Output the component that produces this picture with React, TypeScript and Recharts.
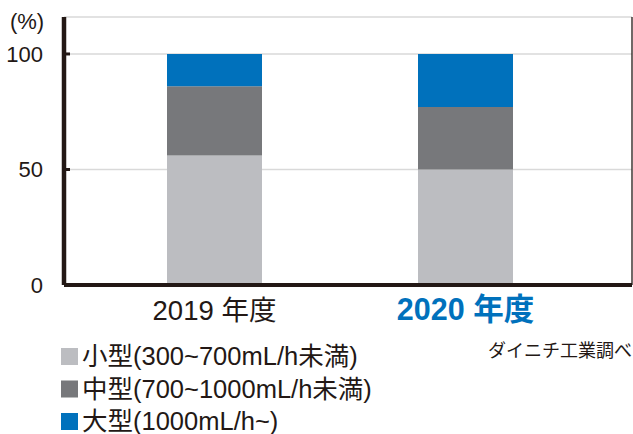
import React from 'react';
import { BarChart, Bar, XAxis, YAxis, CartesianGrid, Legend, Label } from 'recharts';

// ---- data ----
const categories = ['2019 年度', '2020 年度'];
const smallShare = [56, 50];
const mediumShare = [30, 27];
const largeShare = [14, 23];
const seriesKeys = ['small', 'medium', 'large'];
const seriesNames = ['小型(300~700mL/h未満)', '中型(700~1000mL/h未満)', '大型(1000mL/h~)'];
const seriesColors = ['#bcbdc1', '#77787b', '#0071bc'];
const yTicks = [0, 50, 100];
const yMax = 116;
const unitLabel = '(%)';
const sourceNote = 'ダイニチ工業調べ';

const data = categories.map((c, i) => ({
  year: c,
  small: smallShare[i],
  medium: mediumShare[i],
  large: largeShare[i],
}));

const INK = '#231815';
const BLUE = '#0071bc';
const FONT = '"Liberation Sans", "Noto Sans CJK JP", sans-serif';
const CJK = '"Noto Sans CJK JP", sans-serif';

const YTick = (props: any) => {
  const { x, y, payload } = props;
  return (
    <g>
      <line x1={x + 21} x2={x + 27} y1={y} y2={y} stroke={INK} strokeWidth={3} />
      <text x={x} y={y} dy={8} textAnchor="end" fontSize={22} fontFamily={FONT} fill={INK}>
        {payload.value}
      </text>
    </g>
  );
};

const XTick = (props: any) => {
  const { x, y, payload, index } = props;
  const highlight = index === categories.length - 1;
  return (
    <text
      x={x}
      y={y}
      dy={35}
      textAnchor="middle"
      fontSize={highlight ? 30.5 : 27.5}
      fontFamily={FONT}
      fontWeight={highlight ? 700 : 400}
      fill={highlight ? BLUE : INK}
    >
      {payload.value}
    </text>
  );
};

const LegendContent = () => (
  <svg width={633} height={104} style={{ display: 'block' }}>
    {seriesNames.map((name, i) => (
      <g key={name}>
        <rect x={61} y={18 + i * 32.5} width={17} height={17} fill={seriesColors[i]} />
        <text x={82} y={35 + i * 32.5} fontSize={25.5} fontFamily={FONT} fill={INK}>
          {name}
        </text>
      </g>
    ))}
    <text x={632} y={27} textAnchor="end" fontSize={18} fontFamily={CJK} fill={INK}>
      {sourceNote}
    </text>
  </svg>
);

export default function App() {
  return (
    <div style={{ position: 'absolute', left: 0, top: 0, width: 633, height: 434, background: '#fff' }}>
      <BarChart width={633} height={434} data={data} margin={{ top: 17, right: 0, bottom: 0, left: 0 }}>
        <CartesianGrid horizontal vertical={false} stroke="#d9d9d9" strokeWidth={1.5} />
        <XAxis
          dataKey="year"
          height={149}
          padding={{ left: 25, right: 41 }}
          axisLine={{ stroke: INK, strokeWidth: 4 }}
          tickLine={false}
          tickSize={0}
          tickMargin={0}
          tick={<XTick />}
          interval={0}
        />
        <YAxis
          width={64}
          domain={[0, yMax]}
          ticks={yTicks}
          axisLine={{ stroke: INK, strokeWidth: 4.5 }}
          tickLine={false}
          tickSize={0}
          tickMargin={21}
          tick={<YTick />}
          interval={0}
        >
          <Label
            content={(p: any) => {
              const vb = p.viewBox || { x: 0, y: 17 };
              return (
                <text x={vb.x + 27} y={vb.y + 12} textAnchor="middle" fontSize={22} fontFamily={FONT} fill={INK}>
                  {unitLabel}
                </text>
              );
            }}
          />
        </YAxis>
        <YAxis
          yAxisId="r"
          orientation="right"
          width={1}
          domain={[0, yMax]}
          tick={false}
          tickLine={false}
          axisLine={{ stroke: INK, strokeWidth: 1.3 }}
        />
        {seriesKeys.map((k, i) => (
          <Bar key={k} dataKey={k} name={seriesNames[i]} stackId="a" fill={seriesColors[i]} barSize={95} isAnimationActive={false} />
        ))}
        <Legend
          layout="horizontal"
          verticalAlign="middle"
          align="center"
          wrapperStyle={{ position: 'absolute', left: 0, top: 330, width: 633, height: 104 }}
          content={<LegendContent />}
        />
      </BarChart>
    </div>
  );
}
